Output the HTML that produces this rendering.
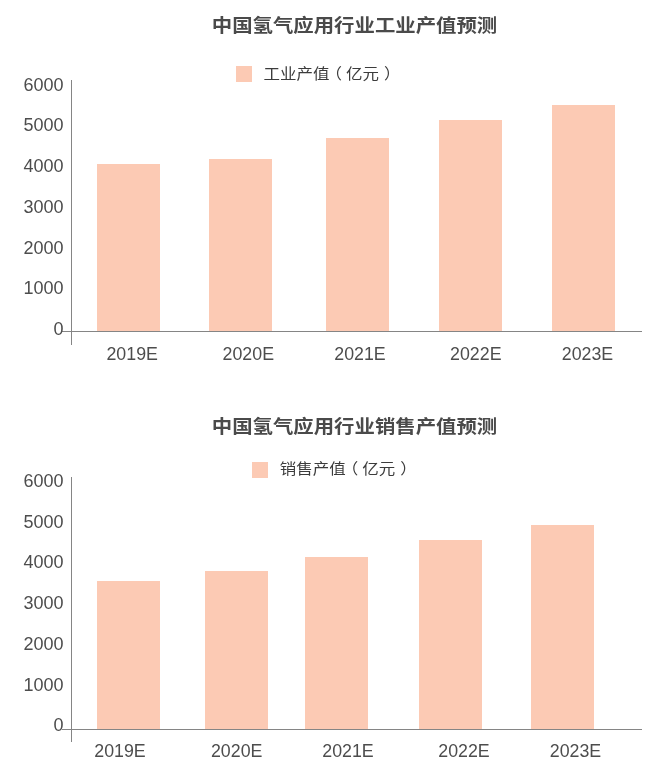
<!DOCTYPE html>
<html lang="zh"><head><meta charset="utf-8"><title>中国氢气应用行业产值预测</title>
<style>
html,body{margin:0;padding:0;background:#fff;}
body{width:660px;height:770px;position:relative;overflow:hidden;font-family:"Liberation Sans","Noto Sans CJK SC",sans-serif;color:#4d4d4d;}
div{position:absolute;white-space:nowrap;}
.title{left:0;width:709px;text-align:center;font-size:20.4px;transform:scaleY(0.9);font-weight:bold;line-height:30px;height:30px;color:#4a4a4a;}
.sw{width:16px;height:16px;background:#fccab4;}
.lg{font-size:16.5px;transform:scaleY(0.92);line-height:24px;height:24px;color:#3c3c3c;}
.pl{position:relative;left:-4px}.pr{position:relative;left:5px}
.bar{background:#fccab4;}
.vax{width:1px;background:#858585;}
.hax{height:1px;background:#858585;}
.yl{left:0;width:63.5px;text-align:right;font-size:18px;line-height:20px;height:20px;}
  .xl{width:80px;text-align:center;font-size:17.8px;line-height:20px;height:20px;}
</style></head><body>
<div class="title" style="top:10.75px">中国氢气应用行业工业产值预测</div>
<div class="sw" style="left:236px;top:66px"></div>
<div class="lg" style="left:263.5px;top:61.05px">工业产值<span class=pl>（</span>亿元<span class=pr>）</span></div>
<div class="bar" style="left:97px;top:164px;width:63px;height:167px"></div>
<div class="bar" style="left:209px;top:159px;width:63px;height:172px"></div>
<div class="bar" style="left:326px;top:138px;width:63px;height:193px"></div>
<div class="bar" style="left:439px;top:120px;width:63px;height:211px"></div>
<div class="bar" style="left:552px;top:105px;width:63px;height:226px"></div>
<div class="vax" style="left:71px;top:80px;height:265px"></div>
<div class="hax" style="left:62px;top:331px;width:580px"></div>
<div class="yl" style="top:74.75px">6000</div>
<div class="yl" style="top:115.4px">5000</div>
<div class="yl" style="top:156.1px">4000</div>
<div class="yl" style="top:196.75px">3000</div>
<div class="yl" style="top:237.5px">2000</div>
<div class="yl" style="top:278.1px">1000</div>
<div class="yl" style="top:318.75px">0</div>
<div class="xl" style="left:92.19999999999999px;top:343.7px">2019E</div>
<div class="xl" style="left:208.3px;top:343.7px">2020E</div>
<div class="xl" style="left:320px;top:343.7px">2021E</div>
<div class="xl" style="left:435.8px;top:343.7px">2022E</div>
<div class="xl" style="left:547.5px;top:343.7px">2023E</div>
<div class="title" style="top:411.7px">中国氢气应用行业销售产值预测</div>
<div class="sw" style="left:252px;top:462px"></div>
<div class="lg" style="left:279.7px;top:456.0px">销售产值<span class=pl>（</span>亿元<span class=pr>）</span></div>
<div class="bar" style="left:97px;top:581px;width:63px;height:148px"></div>
<div class="bar" style="left:205px;top:571px;width:63px;height:158px"></div>
<div class="bar" style="left:305px;top:557px;width:63px;height:172px"></div>
<div class="bar" style="left:419px;top:540px;width:63px;height:189px"></div>
<div class="bar" style="left:531px;top:525px;width:63px;height:204px"></div>
<div class="vax" style="left:71px;top:477px;height:264.5px"></div>
<div class="hax" style="left:62px;top:729px;width:580px"></div>
<div class="yl" style="top:471.0px">6000</div>
<div class="yl" style="top:511.70000000000005px">5000</div>
<div class="yl" style="top:552.4px">4000</div>
<div class="yl" style="top:593.1px">3000</div>
<div class="yl" style="top:633.8px">2000</div>
<div class="yl" style="top:674.5px">1000</div>
<div class="yl" style="top:715.25px">0</div>
<div class="xl" style="left:80px;top:740.9px">2019E</div>
<div class="xl" style="left:196.7px;top:740.9px">2020E</div>
<div class="xl" style="left:308px;top:740.9px">2021E</div>
<div class="xl" style="left:424px;top:740.9px">2022E</div>
<div class="xl" style="left:535.5px;top:740.9px">2023E</div>
</body></html>
